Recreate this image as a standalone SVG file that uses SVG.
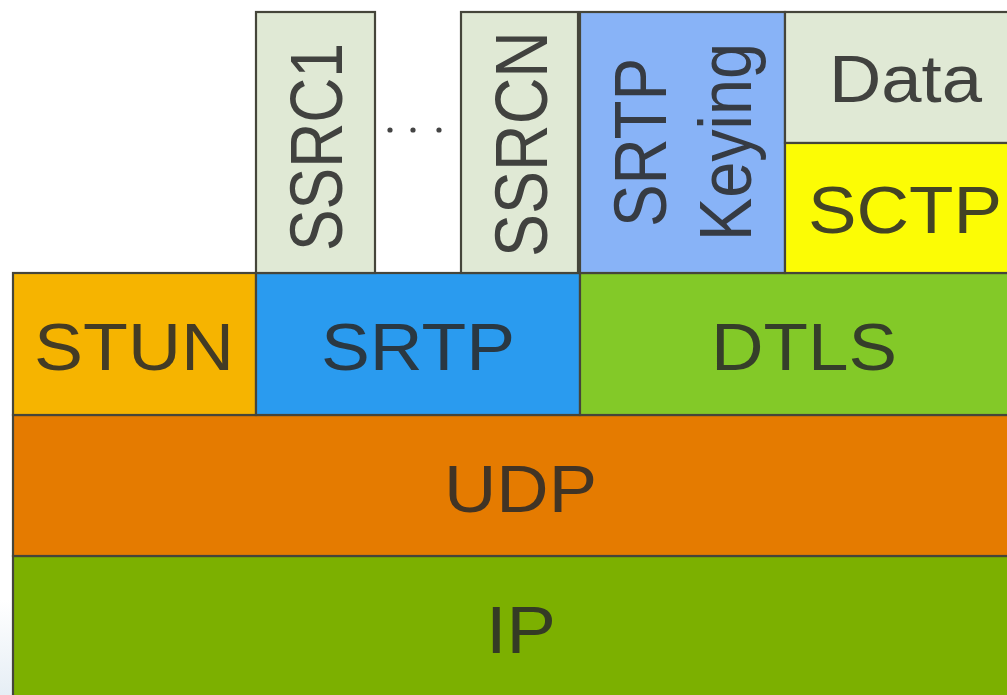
<svg xmlns="http://www.w3.org/2000/svg" width="1007" height="695" viewBox="0 0 1007 695">
  <style>
    .box { stroke: #45453a; stroke-width: 2.2; }
    .lbl { font-family: "Liberation Sans", Arial, sans-serif; font-size: 66px; fill: #2a2a2a; fill-opacity: 0.88; }
    .vlbl { font-family: "Liberation Sans", Arial, sans-serif; font-size: 74px; fill: #2a2a2a; fill-opacity: 0.88; }
    .dot { fill: #444; }
  </style>
  <defs>
    <linearGradient id="edgeFade" x1="0" y1="0" x2="0" y2="1">
      <stop offset="0" stop-color="#ffffff"/>
      <stop offset="1" stop-color="#e6eef5"/>
    </linearGradient>
  </defs>
  <rect x="0" y="0" width="1007" height="695" fill="#ffffff"/>
  <rect x="0" y="600" width="14" height="95" fill="url(#edgeFade)"/>

  <!-- bottom layers -->
  <g id="ip">
    <rect class="box" x="13" y="556" width="1010" height="150" fill="#7cb000"/>
    <text class="lbl" x="486" y="653" textLength="70" lengthAdjust="spacingAndGlyphs">IP</text>
  </g>
  <g id="udp">
    <rect class="box" x="13" y="415" width="1010" height="141" fill="#e57b00"/>
    <text class="lbl" x="444" y="512" textLength="153" lengthAdjust="spacingAndGlyphs">UDP</text>
  </g>

  <!-- transport row -->
  <g id="stun">
    <rect class="box" x="13" y="273" width="243" height="142" fill="#f6b400"/>
    <text class="lbl" x="34" y="370" textLength="200" lengthAdjust="spacingAndGlyphs">STUN</text>
  </g>
  <g id="srtp">
    <rect class="box" x="256" y="273" width="324" height="142" fill="#2a9bef"/>
    <text class="lbl" x="321" y="370" textLength="194" lengthAdjust="spacingAndGlyphs">SRTP</text>
  </g>
  <g id="dtls">
    <rect class="box" x="580" y="273" width="443" height="142" fill="#83c928"/>
    <text class="lbl" x="711" y="370" textLength="186" lengthAdjust="spacingAndGlyphs">DTLS</text>
  </g>

  <!-- upper row -->
  <g id="ssrc1">
    <rect class="box" x="256" y="12" width="119" height="261" fill="#e0e9d5"/>
    <text class="vlbl" transform="translate(342,251) rotate(-90)" x="0" y="0" textLength="208" lengthAdjust="spacingAndGlyphs">SSRC1</text>
  </g>
  <g id="ellipsis">
    <circle class="dot" cx="390" cy="130" r="2.6"/>
    <circle class="dot" cx="413" cy="130" r="2.6"/>
    <circle class="dot" cx="439" cy="130" r="2.6"/>
  </g>
  <g id="ssrcn">
    <rect class="box" x="461" y="12" width="117" height="261" fill="#e0e9d5"/>
    <text class="vlbl" transform="translate(547,257) rotate(-90)" x="0" y="0" textLength="226" lengthAdjust="spacingAndGlyphs">SSRCN</text>
  </g>
  <g id="srtp-keying">
    <rect class="box" x="580" y="12" width="205" height="261" fill="#88b3f7"/>
    <text class="vlbl" transform="translate(666,227) rotate(-90)" x="0" y="0" textLength="169" lengthAdjust="spacingAndGlyphs">SRTP</text>
    <text class="vlbl" transform="translate(751,241) rotate(-90)" x="0" y="0" textLength="198" lengthAdjust="spacingAndGlyphs">Keying</text>
  </g>
  <g id="data">
    <rect class="box" x="785" y="12" width="238" height="131" fill="#e0e9d5"/>
    <text class="lbl" x="829" y="102" textLength="153" lengthAdjust="spacingAndGlyphs">Data</text>
  </g>
  <g id="sctp">
    <rect class="box" x="785" y="143" width="238" height="130" fill="#fcfc05"/>
    <text class="lbl" x="808" y="233" textLength="194" lengthAdjust="spacingAndGlyphs">SCTP</text>
  </g>

  <!-- no connectors in this stack diagram -->
  <g id="connectors"/>
</svg>
